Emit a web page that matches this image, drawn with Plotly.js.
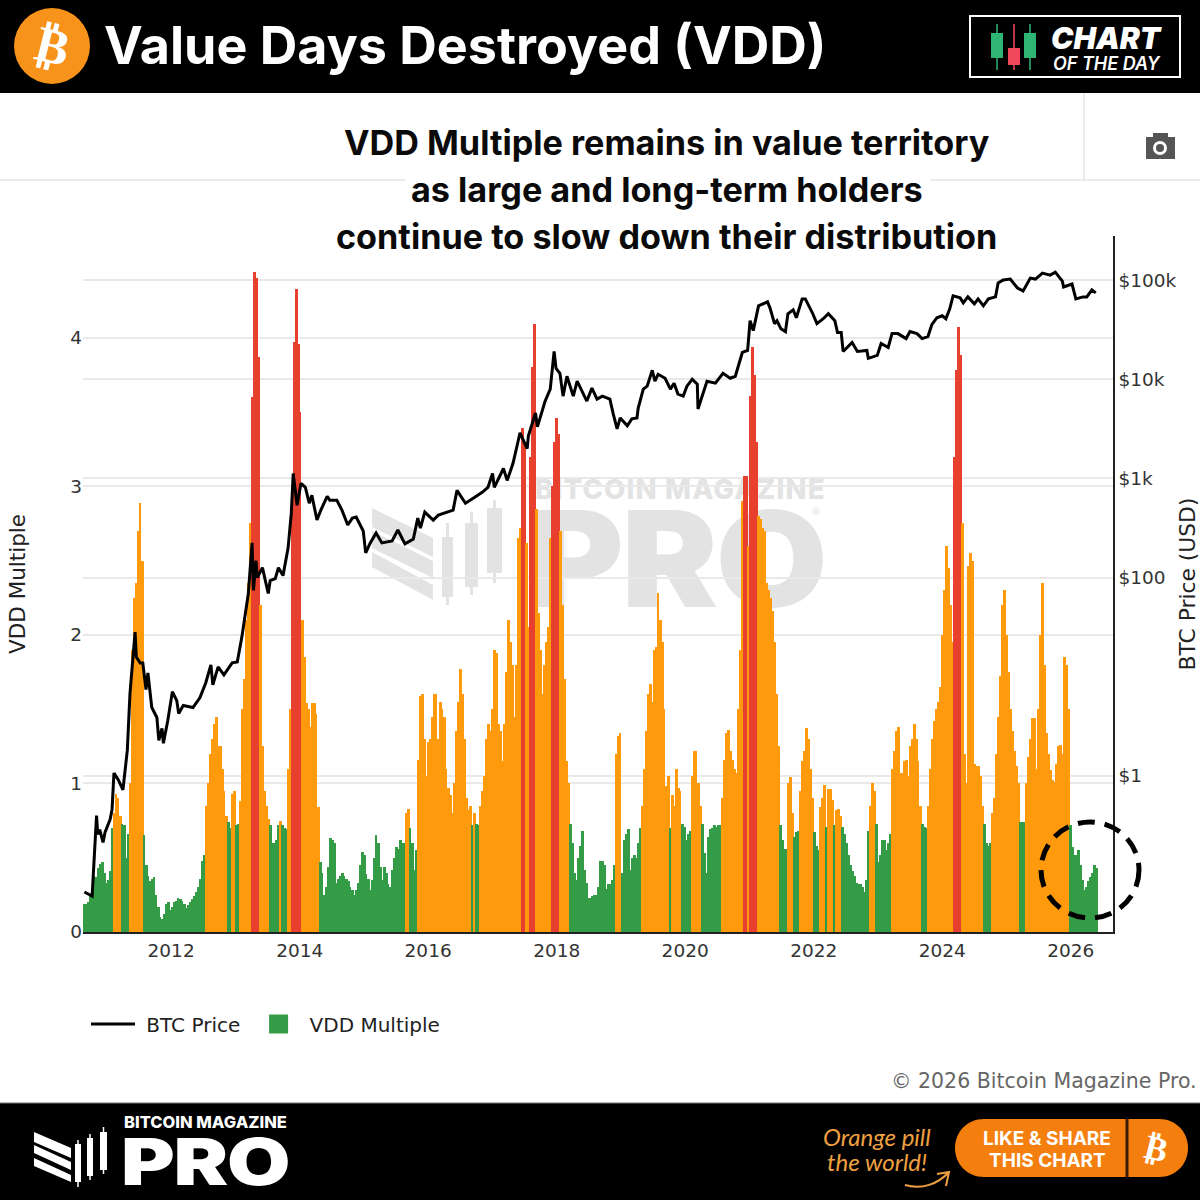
<!DOCTYPE html>
<html>
<head>
<meta charset="utf-8">
<script src="https://cdn.plot.ly/plotly-3.0.1.min.js"></script>
<style>
html,body{margin:0;padding:0;background:#fff;width:1200px;height:1200px;overflow:hidden}
.t{position:absolute;font-family:Inter,sans-serif;white-space:nowrap}
#wm1{left:535px;top:479px;height:20px;font-size:27.5px;font-weight:800;line-height:20px;letter-spacing:1.2px;color:#e3e3e3;z-index:0}
#wm2{left:529px;top:510px;height:97px;font-size:133px;font-weight:900;line-height:97px;letter-spacing:-2px;color:#e3e3e3;z-index:0;transform:scaleX(1.085);transform-origin:left center}
#wm3{left:812px;top:506px;height:14px;font-size:12px;line-height:14px;color:#e3e3e3;z-index:0}
#chart{position:absolute;left:0;top:0;width:1200px;height:1200px;z-index:1}
#pro{left:121px;top:1136px;height:52px;font-size:64px;font-weight:900;line-height:52px;color:#fff;z-index:2;transform:scaleX(1.28);transform-origin:left center;letter-spacing:-1px}
#bm{left:124px;top:1115px;height:14px;font-size:16.5px;font-weight:800;line-height:14px;color:#fff;z-index:2}
#cd1{left:1051px;top:27px;height:22px;font-size:30px;font-weight:900;font-style:italic;line-height:22px;color:#fff;z-index:2}
#cd2{left:1053px;top:56px;height:16px;font-size:18px;font-weight:600;font-style:italic;line-height:16px;color:#fff;z-index:2}
</style>
</head>
<body>
<div class="t" id="wm1">BITCOIN MAGAZINE</div>
<div class="t" id="wm2">PRO</div>
<div class="t" id="wm3">®</div>
<div id="chart"></div>
<div class="t" id="bm">BITCOIN MAGAZINE</div>
<div class="t" id="pro">PRO</div>
<div class="t" id="cd1">CHART</div>
<div class="t" id="cd2">OF THE DAY</div>
<script>
// VDD Multiple on a regular sampling grid
const vddFirstYear = 2010.646, vddStepYears = 0.03113;
const vdd2010 = [.19,.19,.2,.24,.3,.38,.37,.43,.46,.47,.4,.33,.35,.41,.7,.8,.93,.9,.78,.73,.72,.5,.66,1.0,1.9,2.25,2.35,2.7,2.89,2.5,.65,.45,.38,.34,.36,.37,.25,.17,.1,.09,.12,.19,.2,.15,.17,.2,.21,.23,.22,.21];
const vdd2012 = [.19,.16,.18,.2,.22,.24,.27,.3,.36,.48,.52,.85,1.0,1.2,1.3,1.4,1.45,1.25,1.25,1.1,.95,.78,.74,.7,.93,.95,.72,.73,.88,1.5,1.7,2.1,2.35,2.75,3.6,4.44,4.4,3.87,2.2,1.25,.95,.85,.76,.72,.6,.6,.62,.72,.75,.72];
const vdd2014 = [.7,.69,1.1,1.5,2.98,3.97,4.33,3.96,3.5,2.1,1.85,1.54,1.5,1.38,1.54,1.54,1.47,.84,.47,.4,.25,.3,.44,.63,.62,.6,.33,.36,.38,.4,.38,.36,.34,.3,.28,.25,.28,.33,.45,.54,.52,.39,.36,.28,.35,.5,.65,.6,.44,.35];
const vdd2015 = [.44,.4,.32,.3,.42,.5,.57,.56,.62,.6,.6,.8,.83,.7,.6,.42,.55,1.16,1.59,1.6,1.3,1.05,1.28,1.3,1.45,1.6,1.6,1.3,1.55,1.5,1.45,1.1,.97,.92,.8,1.0,1.35,1.55,1.77,1.6,1.3,.9,.82,.85,.72,.8,.73,.72,.85,.95];
const vdd2017 = [1.05,1.3,1.4,1.35,1.5,1.9,1.88,1.4,1.35,1.15,1.4,1.75,2.1,1.95,1.8,1.45,1.8,2.65,2.72,3.39,3.3,2.62,2.05,3.2,3.8,4.09,2.85,2.15,1.9,1.6,1.8,1.95,2.05,2.65,3.0,3.3,3.46,3.35,2.7,2.2,1.7,1.15,1.0,.73,.6,.4,.35,.5,.58,.68];
const vdd2018 = [.42,.33,.23,.23,.24,.25,.25,.3,.48,.48,.45,.29,.32,.32,.35,.45,1.2,1.32,1.34,.4,.62,.66,.69,.42,.5,.52,.5,.6,.7,.85,1.1,1.35,1.6,1.67,1.55,1.9,1.92,2.28,2.1,1.95,1.5,.98,1.05,.7,.92,.85,1.1,.97,.95,.73];
const vdd2020 = [.71,.62,.66,.68,1.05,1.22,1.22,1.0,.85,.73,.53,.4,.64,.69,.7,.72,.71,.72,.72,.9,1.16,1.34,1.36,1.22,1.16,1.1,1.07,1.5,1.9,2.9,3.07,3.07,2.6,3.61,3.94,3.75,3.3,2.8,2.78,2.72,2.7,2.35,2.3,2.25,2.16,1.95,1.6,1.25,.72,.62];
const vdd2021 = [.56,.56,1.0,1.04,.8,.64,.67,.68,.95,1.15,1.22,1.37,1.3,1.1,.9,.67,.58,.55,.84,.9,.99,.71,.96,.96,.89,.72,.82,.83,.78,.71,.66,.6,.52,.45,.41,.38,.33,.32,.32,.3,.27,.35,.68,.85,1.0,.95,.73,.47,.52,.62];
const vdd2023 = [.62,.55,.6,.66,1.1,1.22,1.35,1.38,1.07,1.07,1.15,1.16,1.05,1.25,1.3,1.4,1.3,1.15,.85,.73,.71,.7,.85,1.1,1.3,1.42,1.5,1.55,1.65,2.0,2.3,2.6,2.45,2.2,1.95,3.2,3.78,4.07,3.88,2.75,1.2,1.0,2.46,2.55,2.5,1.13,1.12,1.12,1.05,.85];
const vdd2025 = [.73,.6,.58,.6,.8,.9,1.2,1.45,1.72,2.2,2.3,2.0,1.75,1.5,1.35,1.22,1.12,1.0,.74,.74,.74,1.0,1.18,1.3,1.44,1.44,1.1,1.5,2.0,2.35,1.8,1.34,1.2,1.09,1.02,1.01,1.13,1.25,1.26,1.2,1.85,1.8,1.5,.72,.57,.52,.52,.55,.45,.35,.28,.3,.34,.37,.4,.45,.43];
const vddValues = [].concat(vdd2010,vdd2012,vdd2014,vdd2015,vdd2017,vdd2018,vdd2020,vdd2021,vdd2023,vdd2025);

// BTC price: decimal year and log10(USD)
const btcYears = [2010.65,2010.71,2010.77,2010.79,2010.82,2010.84,2010.86,2010.89,2010.94,2010.97,2011.05,2011.08,2011.11,2011.18,2011.25,2011.32,2011.36,2011.39,2011.44,2011.46,2011.52,2011.56,2011.61,2011.64,2011.70,2011.78,2011.81,2011.86,2011.88,2011.95,2012.02,2012.09,2012.12,2012.19,2012.34,2012.45,2012.54,2012.62,2012.65,2012.73,2012.82,2012.95,2013.03,2013.10,2013.20,2013.26,2013.28,2013.32,2013.34,2013.42,2013.51,2013.54,2013.62,2013.67,2013.74,2013.82,2013.87,2013.90,2013.96,2014.02,2014.09,2014.15,2014.19,2014.27,2014.33,2014.43,2014.47,2014.58,2014.66,2014.75,2014.82,2014.88,2014.99,2015.03,2015.10,2015.19,2015.28,2015.44,2015.53,2015.64,2015.77,2015.84,2015.88,2015.95,2016.08,2016.16,2016.31,2016.39,2016.45,2016.58,2016.70,2016.84,2016.93,2017.00,2017.03,2017.17,2017.23,2017.32,2017.40,2017.43,2017.54,2017.56,2017.67,2017.70,2017.82,2017.90,2017.96,2017.99,2018.05,2018.10,2018.16,2018.26,2018.32,2018.47,2018.55,2018.63,2018.71,2018.83,2018.88,2018.94,2018.99,2019.10,2019.17,2019.25,2019.27,2019.35,2019.41,2019.49,2019.53,2019.58,2019.69,2019.77,2019.83,2019.89,2019.97,2020.03,2020.11,2020.19,2020.20,2020.26,2020.34,2020.47,2020.59,2020.70,2020.78,2020.89,2020.97,2021.01,2021.06,2021.14,2021.28,2021.32,2021.39,2021.43,2021.49,2021.56,2021.60,2021.68,2021.73,2021.82,2021.87,2021.98,2022.05,2022.15,2022.23,2022.33,2022.37,2022.43,2022.46,2022.60,2022.68,2022.83,2022.85,2022.99,2023.05,2023.16,2023.22,2023.31,2023.44,2023.50,2023.61,2023.69,2023.78,2023.84,2023.92,2024.00,2024.06,2024.12,2024.17,2024.28,2024.33,2024.40,2024.50,2024.56,2024.64,2024.72,2024.83,2024.87,2024.95,2025.06,2025.17,2025.26,2025.37,2025.45,2025.56,2025.68,2025.76,2025.87,2025.89,2026.02,2026.08,2026.19,2026.25,2026.33,2026.39];
const btcLog10 = [-1.17,-1.19,-1.21,-.98,-.69,-.40,-.59,-.54,-.67,-.57,-.44,-.34,.03,-.04,-.14,.26,.83,1.10,1.45,1.20,1.14,1.14,.87,1.04,.69,.59,.36,.48,.33,.56,.85,.76,.63,.71,.69,.79,.94,1.12,.92,1.10,1.02,1.14,1.15,1.40,1.84,2.35,1.87,2.17,2.00,2.10,1.84,1.97,1.99,2.10,2.02,2.30,2.65,3.05,2.73,2.95,2.91,2.75,2.83,2.58,2.68,2.82,2.78,2.78,2.68,2.53,2.60,2.61,2.47,2.25,2.35,2.45,2.35,2.37,2.48,2.34,2.39,2.60,2.50,2.66,2.58,2.63,2.66,2.68,2.88,2.75,2.80,2.86,2.91,3.05,2.91,3.10,2.98,3.15,3.38,3.46,3.30,3.43,3.66,3.52,3.78,3.90,4.28,4.11,4.06,3.83,4.03,3.83,3.98,3.78,3.91,3.80,3.83,3.80,3.65,3.50,3.61,3.53,3.60,3.61,3.71,3.90,3.93,4.09,3.98,4.05,4.01,3.90,3.96,3.85,3.83,3.93,4.00,3.95,3.70,3.83,3.98,3.96,4.06,4.01,4.03,4.27,4.29,4.59,4.49,4.74,4.78,4.72,4.56,4.59,4.51,4.48,4.66,4.70,4.62,4.81,4.81,4.67,4.56,4.61,4.66,4.59,4.47,4.47,4.28,4.37,4.28,4.29,4.21,4.24,4.36,4.32,4.46,4.46,4.41,4.48,4.46,4.41,4.43,4.55,4.62,4.64,4.61,4.71,4.84,4.82,4.77,4.83,4.76,4.81,4.74,4.81,4.83,4.97,5.00,5.01,4.92,4.89,5.02,5.01,5.07,5.05,5.08,4.99,4.93,4.96,4.81,4.83,4.83,4.90,4.87];

const xTickFormat = '%Y';
const rightTickVals = [1,100,1000,10000,100000];
const rightTickText = ['$1','$100','$1k','$10k','$100k'];
const leftTickVals = [0,1,2,3,4];

const GREEN='#349b47', ORANGE='#ff9a0c', RED='#e8402f';
const W=1030,H=696,L=83,B=932;
const px=x=>(x-L)/W, py=y=>(B-y)/H;
function yearToDate(y){
  const yr=Math.floor(y), a=Date.UTC(yr,0,1), b=Date.UTC(yr+1,0,1);
  return new Date(a+(y-yr)*(b-a)).toISOString().slice(0,10);
}
const stepMs = vddStepYears*365.25*864e5;
const vddDates = vddValues.map((_,i)=>yearToDate(vddFirstYear+i*vddStepYears));
const vddColors = vddValues.map(v=>v<0.745?GREEN:(v<2.95?ORANGE:RED));

// --- decoration helpers
function rect(x0,y0,x1,y1,fill,layer,line){
  return {type:'rect',xref:'paper',yref:'paper',x0:px(x0),x1:px(x1),y0:py(y1),y1:py(y0),fillcolor:fill,line:line||{width:0},layer:layer||'above'};
}
function circle(x0,y0,x1,y1,fill,line){
  return {type:'circle',xref:'paper',yref:'paper',x0:px(x0),x1:px(x1),y0:py(y1),y1:py(y0),fillcolor:fill,line:line||{width:0},layer:'above'};
}
function lineS(x0,y0,x1,y1,color,w){
  return {type:'line',xref:'paper',yref:'paper',x0:px(x0),x1:px(x1),y0:py(y0),y1:py(y1),line:{color:color,width:w},layer:'above'};
}
function poly(points,fill,layer){
  const d='M'+points.map(p=>p[0]+','+p[1]).join('L')+'Z';
  return {type:'path',xref:'paper',yref:'paper',path:d,fillcolor:fill,line:{width:0},layer:layer||'above'};
}
function P(pts){return pts.map(p=>[px(p[0]),py(p[1])]);}
function text(t,x,y,size,color,opt){
  opt=opt||{};
  return Object.assign({text:t,xref:'paper',yref:'paper',x:px(x),y:py(y),showarrow:false,xanchor:opt.xa||'center',yanchor:'middle',
    font:{family:opt.family||'Inter, sans-serif',size:size,color:color,weight:opt.weight||700,style:opt.style||'normal'},align:opt.align||'center',textangle:opt.angle||0});
}

const shapes=[
  // header
  rect(0,0,1200,93,'#000'),
  circle(14,8,90,84,'#f7931a'),
  rect(970,16,1180,77,'#000','above',{color:'#fff',width:2}),
  lineS(997,24,997,70,'#2fb574',1.5),rect(991,33,1003,58,'#2fb574'),
  lineS(1014,24,1014,70,'#f2485b',1.5),rect(1008,48,1020,65,'#f2485b'),
  lineS(1030,24,1030,70,'#2fb574',1.5),rect(1024,33,1036,58,'#2fb574'),
  // toolbar separators
  lineS(1084,93,1084,180,'#e6e6e6',1.5),
  lineS(0,180,405,180,'#e6e6e6',1.5),
  lineS(930,180,1200,180,'#e6e6e6',1.5),
  // camera icon
  rect(1146,137,1175,159,'#555555'),
  rect(1153,133,1168,138,'#555555'),
  circle(1153,141,1167,155,'#ffffff'),
  circle(1156,144,1164,152,'#555555'),
  // highlighted circle
  {type:'circle',xref:'paper',yref:'paper',x0:px(1041),x1:px(1139),y0:py(918),y1:py(822),line:{color:'#000',width:5,dash:'17px,10px'},fillcolor:'rgba(0,0,0,0)',layer:'above'},
  // footer
  rect(0,1103,1200,1200,'#000'),
  lineS(0,1103,1200,1103,'#777',1),
  poly(P([[34,1132],[71,1148],[71,1158],[34,1142]]),'#fff'),
  poly(P([[34,1145],[71,1162],[71,1170],[34,1153]]),'#fff'),
  poly(P([[34,1158],[71,1175],[71,1182],[34,1166]]),'#fff'),
  rect(75,1144,81,1182,'#fff'),lineS(78,1140,78,1187,'#fff',1.5),
  rect(87,1138,93,1176,'#fff'),lineS(90,1134,90,1180,'#fff',1.5),
  rect(100,1132,107,1170,'#fff'),lineS(103.5,1127,103.5,1174,'#fff',1.5),
  // button
  {type:'path',xref:'paper',yref:'paper',fillcolor:'#f57f0e',line:{width:0},layer:'above',
    path:'M'+px(984)+','+py(1119)+'L'+px(1159)+','+py(1119)+'C'+px(1176)+','+py(1119)+' '+px(1188)+','+py(1132)+' '+px(1188)+','+py(1148)+'C'+px(1188)+','+py(1164)+' '+px(1176)+','+py(1177)+' '+px(1159)+','+py(1177)+'L'+px(984)+','+py(1177)+'C'+px(967)+','+py(1177)+' '+px(955)+','+py(1164)+' '+px(955)+','+py(1148)+'C'+px(955)+','+py(1132)+' '+px(967)+','+py(1119)+' '+px(984)+','+py(1119)+'Z'},
  lineS(1127,1119,1127,1177,'#3a1a00',3),
  // arrow
  {type:'path',xref:'paper',yref:'paper',line:{color:'#f0a040',width:2},fillcolor:'rgba(0,0,0,0)',layer:'above',
    path:'M'+px(905)+','+py(1185)+'C'+px(922)+','+py(1190)+' '+px(938)+','+py(1184)+' '+px(949)+','+py(1172)+'M'+px(937)+','+py(1174)+'L'+px(949)+','+py(1172)+'L'+px(946)+','+py(1186)},
  // watermark mark, below the bars
  poly(P([[372,508],[433,538],[433,557],[372,527]]),'#e3e3e3','below'),
  poly(P([[372,531],[433,561],[433,578],[372,548]]),'#e3e3e3','below'),
  poly(P([[372,552],[433,585],[433,600],[372,567]]),'#e3e3e3','below'),
  rect(442,537,453,597,'#e3e3e3','below'),rect(446,523,449,605,'#e3e3e3','below'),
  rect(465,523,478,587,'#e3e3e3','below'),rect(470,512,473,595,'#e3e3e3','below'),
  rect(487,508,502,573,'#e3e3e3','below'),rect(493,500,496,583,'#e3e3e3','below')
];

const annotations=[
  text('₿',52,46,50,'#fff',{angle:14,family:'DejaVu Sans'}),
  text('Value Days Destroyed (VDD)',102,45,52,'#fff',{xa:'left'}),
  text('VDD Multiple remains in value territory',667,142,34.2,'#0a0a0a'),
  text('as large and long-term holders',667,189,34.2,'#0a0a0a'),
  text('continue to slow down their distribution',666,236.5,34.2,'#0a0a0a'),
  text('© 2026 Bitcoin Magazine Pro.',1199,1081,20.5,'#666',{xa:'right',family:'DejaVu Sans, Verdana, sans-serif',weight:400}),
  text('Orange pill',877,1136,24,'#f0a040',{style:'italic',family:'Lato, sans-serif',weight:400}),
  text('the world!',877,1161,24,'#f0a040',{style:'italic',family:'Lato, sans-serif',weight:400}),
  text('LIKE & SHARE',1047,1138,19,'#fff',{weight:700}),
  text('THIS CHART',1047,1160,19,'#fff',{weight:700}),
  text('₿',1156,1148,34,'#fff',{angle:14,family:'DejaVu Sans'})
];

const tickFont={family:'DejaVu Sans, Verdana, sans-serif',size:18.5,color:'#333'};

const traces=[
  {type:'bar',name:'VDD Multiple',x:vddDates,y:vddValues,width:stepMs*1.4,marker:{color:vddColors,line:{width:0}},yaxis:'y',xaxis:'x',showlegend:false,hoverinfo:'x+y'},
  {type:'scatter',mode:'lines',name:'\u00a0BTC Price\u00a0',x:btcYears.map(yearToDate),y:btcLog10.map(v=>Math.pow(10,v)),yaxis:'y2',line:{color:'#000',width:3}},
  {type:'scatter',mode:'markers',name:'\u2009VDD Multiple',x:[null],y:[null],yaxis:'y',marker:{symbol:'square',size:16,color:GREEN,line:{color:GREEN,width:3}}}
];

const layout={
  width:1200,height:1200,
  margin:{l:83,r:87,t:236,b:268,pad:0},
  paper_bgcolor:'rgba(0,0,0,0)',plot_bgcolor:'rgba(0,0,0,0)',
  bargap:0,
  xaxis:{type:'date',range:[yearToDate(2010.63),yearToDate(2026.66)],dtick:'M24',tick0:'2012-01-01',tickformat:xTickFormat,
    showgrid:false,zeroline:false,ticks:'',showline:true,linecolor:'#222',linewidth:1.5,tickfont:tickFont,ticklabelstandoff:1},
  yaxis:{range:[0,4.684],tickvals:leftTickVals,ticktext:leftTickVals.map(String),showgrid:true,gridcolor:'#e9e9e9',gridwidth:2,zeroline:false,showline:false,ticks:'',
    tickfont:tickFont,title:{text:'VDD Multiple',font:{family:'DejaVu Sans, Verdana, sans-serif',size:21.5,color:'#222'},standoff:38}},
  yaxis2:{type:'log',range:[-1.573,5.444],overlaying:'y',side:'right',tickvals:rightTickVals,ticktext:rightTickText,showgrid:true,gridcolor:'#e9e9e9',gridwidth:2,zeroline:false,
    showline:true,linecolor:'#222',linewidth:1.5,ticks:'',tickfont:tickFont,ticklabelstandoff:0,title:{text:'BTC Price (USD)',font:{family:'DejaVu Sans, Verdana, sans-serif',size:21.8,color:'#222'},standoff:4}},
  showlegend:true,
  legend:{orientation:'h',x:3/W,xanchor:'left',y:py(1024),yanchor:'middle',font:{family:'DejaVu Sans, Verdana, sans-serif',size:20,color:'#222'},itemwidth:44,bgcolor:'rgba(0,0,0,0)',traceorder:'normal'},
  shapes:shapes,annotations:annotations
};
Plotly.newPlot('chart',traces,layout,{displayModeBar:false,responsive:false});
</script>
</body>
</html>
